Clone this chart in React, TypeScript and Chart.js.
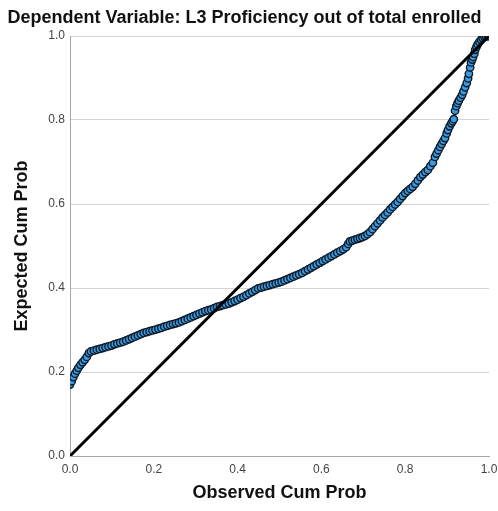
import React, { useEffect, useRef } from "react";
import { Chart, registerables } from "chart.js";

Chart.register(...registerables);

const titleText = "Dependent Variable: L3 Proficiency out of total enrolled";
const xAxisTitle = "Observed Cum Prob";
const yAxisTitle = "Expected Cum Prob";

const observedCumProb: number[] = [
  0.000, 0.004, 0.008, 0.012, 0.016, 0.020, 0.025, 0.030, 0.035, 0.040, 0.045, 0.050,
  0.057, 0.064, 0.071, 0.078, 0.085, 0.092, 0.099, 0.106, 0.113, 0.120, 0.127, 0.134, 0.141, 0.148, 0.155, 0.162, 0.169, 0.176, 0.183, 0.190, 0.197,
  0.204, 0.211, 0.218, 0.225, 0.232, 0.239, 0.246, 0.253, 0.260, 0.267, 0.274, 0.281, 0.288, 0.295, 0.302, 0.309, 0.316, 0.323, 0.330, 0.337, 0.344, 0.351, 0.358, 0.365, 0.372, 0.379, 0.386, 0.393, 0.400, 0.407, 0.414, 0.421, 0.428, 0.435, 0.442, 0.449,
  0.456, 0.463, 0.470, 0.477, 0.484, 0.491, 0.498, 0.505, 0.512, 0.519, 0.526, 0.533, 0.540, 0.547, 0.554, 0.561, 0.568, 0.575, 0.582, 0.589, 0.596, 0.603, 0.610, 0.617, 0.624, 0.631, 0.638, 0.645, 0.652, 0.659,
  0.664, 0.668, 0.674, 0.680, 0.686, 0.692, 0.698, 0.704, 0.710, 0.716, 0.722, 0.728, 0.734, 0.740, 0.746,
  0.752, 0.758, 0.764, 0.770, 0.776, 0.782, 0.788, 0.794, 0.800, 0.806, 0.812, 0.818, 0.824, 0.830, 0.836, 0.842, 0.848, 0.854, 0.860,
  0.866, 0.871, 0.875, 0.879, 0.883, 0.887, 0.891, 0.895, 0.899, 0.902, 0.906, 0.910, 0.913, 0.916, 0.919, 0.922, 0.925, 0.928, 0.932, 0.936,
  0.939, 0.943, 0.947, 0.950, 0.952, 0.955, 0.957, 0.960, 0.962, 0.965, 0.967, 0.970, 0.973, 0.977, 0.981, 0.985, 0.989, 0.993, 0.997, 1.000,
];

const expectedCumProb: number[] = [
  0.170, 0.178, 0.188, 0.196, 0.203, 0.210, 0.217, 0.223, 0.229, 0.236, 0.245, 0.249,
  0.251, 0.253, 0.255, 0.257, 0.259, 0.261, 0.263, 0.266, 0.268, 0.270, 0.272, 0.275, 0.278, 0.281, 0.284, 0.287, 0.290, 0.293, 0.295, 0.297, 0.299,
  0.301, 0.303, 0.305, 0.308, 0.310, 0.312, 0.314, 0.316, 0.318, 0.321, 0.324, 0.327, 0.330, 0.333, 0.336, 0.339, 0.342, 0.345, 0.347, 0.349, 0.352, 0.355, 0.357, 0.359, 0.361, 0.363, 0.366, 0.369, 0.372, 0.376, 0.379, 0.383, 0.387, 0.391, 0.395, 0.399,
  0.401, 0.403, 0.405, 0.407, 0.409, 0.411, 0.413, 0.415, 0.418, 0.421, 0.424, 0.427, 0.430, 0.433, 0.436, 0.440, 0.444, 0.448, 0.452, 0.456, 0.460, 0.464, 0.468, 0.472, 0.476, 0.480, 0.484, 0.488, 0.492, 0.497,
  0.505, 0.511, 0.513, 0.515, 0.517, 0.519, 0.521, 0.524, 0.528, 0.533, 0.540, 0.547, 0.554, 0.561, 0.568,
  0.574, 0.580, 0.587, 0.593, 0.599, 0.605, 0.612, 0.619, 0.626, 0.631, 0.636, 0.641, 0.648, 0.656, 0.664, 0.670, 0.676, 0.681, 0.690,
  0.698, 0.712, 0.720, 0.728, 0.736, 0.743, 0.750, 0.757, 0.768, 0.776, 0.785, 0.792, 0.797, 0.802, 0.822, 0.833, 0.840, 0.846, 0.853, 0.860,
  0.868, 0.878, 0.888, 0.899, 0.910, 0.925, 0.937, 0.944, 0.950, 0.958, 0.967, 0.974, 0.980, 0.986, 0.991, 0.995, 0.998, 0.999, 1.000, 1.000,
];

const referenceLineX: number[] = [0, 1];
const referenceLineY: number[] = [0, 1];

const FONT = "Arial, 'Liberation Sans', sans-serif";

export default function App() {
  const canvasRef = useRef<HTMLCanvasElement | null>(null);

  useEffect(() => {
    document.body.style.margin = "0";
    const canvas = canvasRef.current;
    if (!canvas) return;
    const points = observedCumProb.map((x, i) => ({ x, y: expectedCumProb[i] }));
    const line = referenceLineX.map((x, i) => ({ x, y: referenceLineY[i] }));
    const chart = new Chart(canvas, {
      type: "scatter",
      data: {
        datasets: [
          {
            type: "line",
            data: line,
            borderColor: "#000000",
            borderWidth: 3,
            pointRadius: 0,
            fill: false,
            order: 0,
          } as any,
          {
            type: "scatter",
            data: points,
            backgroundColor: "#3a9be3",
            borderColor: "#0e1a26",
            borderWidth: 1.4,
            pointRadius: 3.7,
            order: 1,
          },
        ],
      },
      options: {
        animation: false,
        responsive: false,
        maintainAspectRatio: false,
        layout: { padding: { left: 0, right: 9, top: 0, bottom: 0 } },
        plugins: {
          legend: { display: false },
          tooltip: { enabled: false },
          title: {
            display: true,
            text: titleText,
            color: "#111111",
            font: { family: FONT, size: 18, weight: "bold", lineHeight: 1.2 },
            padding: { top: 7, bottom: 7.4 },
          },
        },
        scales: {
          x: {
            type: "linear",
            min: 0,
            max: 1,
            afterFit: (scale: any) => {
              scale.height = 55;
              scale.paddingRight = 0;
              scale.paddingLeft = 0;
            },
            grid: { display: false, drawTicks: false },
            border: { display: true, color: "#a6a6a6", width: 1 },
            ticks: {
              stepSize: 0.2,
              color: "#444444",
              padding: 6,
              maxRotation: 0,
              font: { family: FONT, size: 12 },
              callback: (v: any) => Number(v).toFixed(1),
            },
            title: {
              display: true,
              text: xAxisTitle,
              color: "#111111",
              font: { family: FONT, size: 18, weight: "bold", lineHeight: 1.2 },
              padding: { top: 7, bottom: 7 },
            },
          },
          y: {
            type: "linear",
            min: 0,
            max: 1,
            afterFit: (scale: any) => {
              scale.width = 70;
            },
            grid: { color: "#d4d4d4", lineWidth: 1, drawTicks: false },
            border: { display: true, color: "#a6a6a6", width: 1 },
            ticks: {
              stepSize: 0.2,
              color: "#444444",
              padding: 5,
              font: { family: FONT, size: 12 },
              callback: (v: any) => Number(v).toFixed(1),
            },
            title: {
              display: true,
              text: yAxisTitle,
              color: "#111111",
              font: { family: FONT, size: 18, weight: "bold", lineHeight: 1.2 },
              padding: { top: 11.5, bottom: 11.5 },
            },
          },
        },
      },
    });
    return () => chart.destroy();
  }, []);

  return (
    <div style={{ width: 498, height: 511 }}>
      <canvas ref={canvasRef} width={498} height={511} style={{ display: "block" }} />
    </div>
  );
}
